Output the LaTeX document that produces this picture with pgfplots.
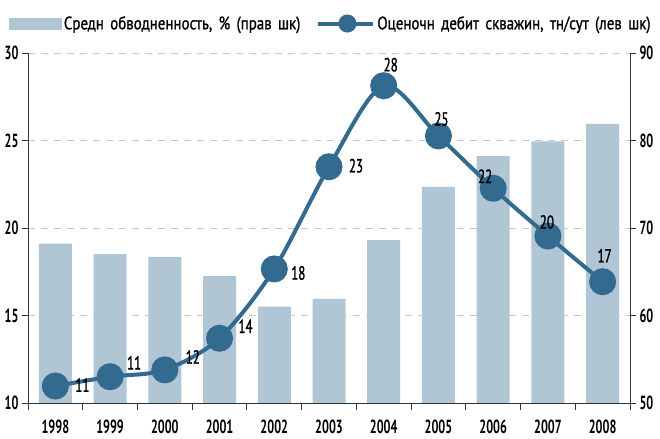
\documentclass[border=0pt]{standalone}
\usepackage{pgfplots}
\pgfplotsset{compat=1.18}
\usepackage{fontspec}
\setmainfont{PT Sans}[FakeStretch=0.68]
\newfontfamily\tickfam{PT Sans Bold}[FakeStretch=0.64]
\newfontfamily\labfam{PT Sans}[FakeStretch=0.68, FakeBold=1.2]
\newfontfamily\legfam{PT Sans}[FakeStretch=0.83, FakeBold=1, WordSpace=1.6]
\definecolor{barcol}{HTML}{B0C6D4}
\definecolor{linecol}{HTML}{336A8F}
\definecolor{gridcol}{HTML}{C8C8C8}
\newcommand{\tickfont}{\tickfam\fontsize{19bp}{19bp}\selectfont}
\newcommand{\labfont}{\labfam\fontsize{19bp}{19bp}\selectfont}
\newcommand{\legfont}{\legfam\fontsize{18bp}{18bp}\selectfont}
\pgfplotstableread{
x y
0 68.2
1 67.0
2 66.7
3 64.5
4 61.0
5 61.9
6 68.6
7 74.7
8 78.2
9 79.9
10 81.9
}\bars
\pgfplotstableread{
x y lab dx dy
0 10.97 11 27 1
1 11.50 11 24 14
2 11.89 12 28 13
3 13.70 14 26 12
4 17.66 18 24 -4
5 23.50 23 27 1
6 28.13 28 7 21
7 25.26 25 3 17
8 22.27 22 -8 12
9 19.54 20 -1 14
10 16.93 17 2 26
}\rate
\begin{document}
\begin{tikzpicture}
\begin{axis}[
  scale only axis, width=602bp, height=350bp,
  at={(0,0)}, anchor=south west,
  xmin=-0.5, xmax=10.5, ymin=50, ymax=90,
  axis x line*=bottom, axis y line*=right,
  axis line style={black!80, line width=0.9bp},
  ytick={50,60,70,80,90},
  xtick={0,...,10},
  xticklabels={1998,1999,2000,2001,2002,2003,2004,2005,2006,2007,2008},
  major x tick style={draw=none},
  minor xtick={-0.5,0.5,...,10.5},
  minor tick length=7bp, major tick length=6bp,
  tick align=outside,
  tick style={black!80, line width=0.9bp},
  ymajorgrids,
  grid style={gridcol, dash pattern=on 7bp off 6bp, line width=0.8bp},
  /pgf/number format/assume math mode=true,
  ticklabel style={font=\tickfont},
  xticklabel style={yshift=-7bp},
  clip=true,
]
\addplot[ybar, bar width=33bp, fill=barcol, draw=none] table[x=x,y=y]{\bars};
\end{axis}
\begin{axis}[
  scale only axis, width=602bp, height=350bp,
  at={(0,0)}, anchor=south west,
  xmin=-0.5, xmax=10.5, ymin=10, ymax=30,
  axis x line=none, axis y line*=left,
  axis line style={black!80, line width=0.9bp},
  ytick={10,15,20,25,30},
  major tick length=6bp, tick align=outside,
  tick style={black!80, line width=0.9bp},
  /pgf/number format/assume math mode=true,
  ticklabel style={font=\tickfont},
  clip=false,
  legend style={at={(0.5,1)}, anchor=south, yshift=20bp, xshift=2bp, draw=none, fill=none,
    font=\legfont, inner sep=0pt,
    /tikz/every even column/.append style={column sep=14bp}},
  legend columns=2,
  legend cell align=left,
]
\addlegendimage{legend image code/.code={\fill[barcol] (-12bp,-5.5bp) rectangle (40bp,5.5bp);}}
\addlegendentry{Средн обводненность, \% (прав шк)}
\addplot[linecol, line width=4bp, smooth, mark=*, mark size=11.5bp,
  mark options={fill=linecol, draw=none},
  visualization depends on={\thisrow{dx}\as\dx},
  visualization depends on={\thisrow{dy}\as\dy},
  point meta=explicit symbolic,
  nodes near coords,
  every node near coord/.append style={anchor=center, xshift=\dx bp, yshift=\dy bp, font=\labfont, text=black, inner sep=0pt},
  legend image code/.code={\draw[linecol, line width=4bp] (-10bp,0bp) -- (45bp,0bp); \fill[linecol] (19bp,0bp) circle (7bp);}
] table[x=x,y=y,meta=lab]{\rate};
\addlegendentry{Оценочн дебит скважин, тн/сут (лев шк)}
\end{axis}
\pgfresetboundingbox
\useasboundingbox (-28bp,-36bp) rectangle (632bp,403bp);
\end{tikzpicture}
\end{document}
